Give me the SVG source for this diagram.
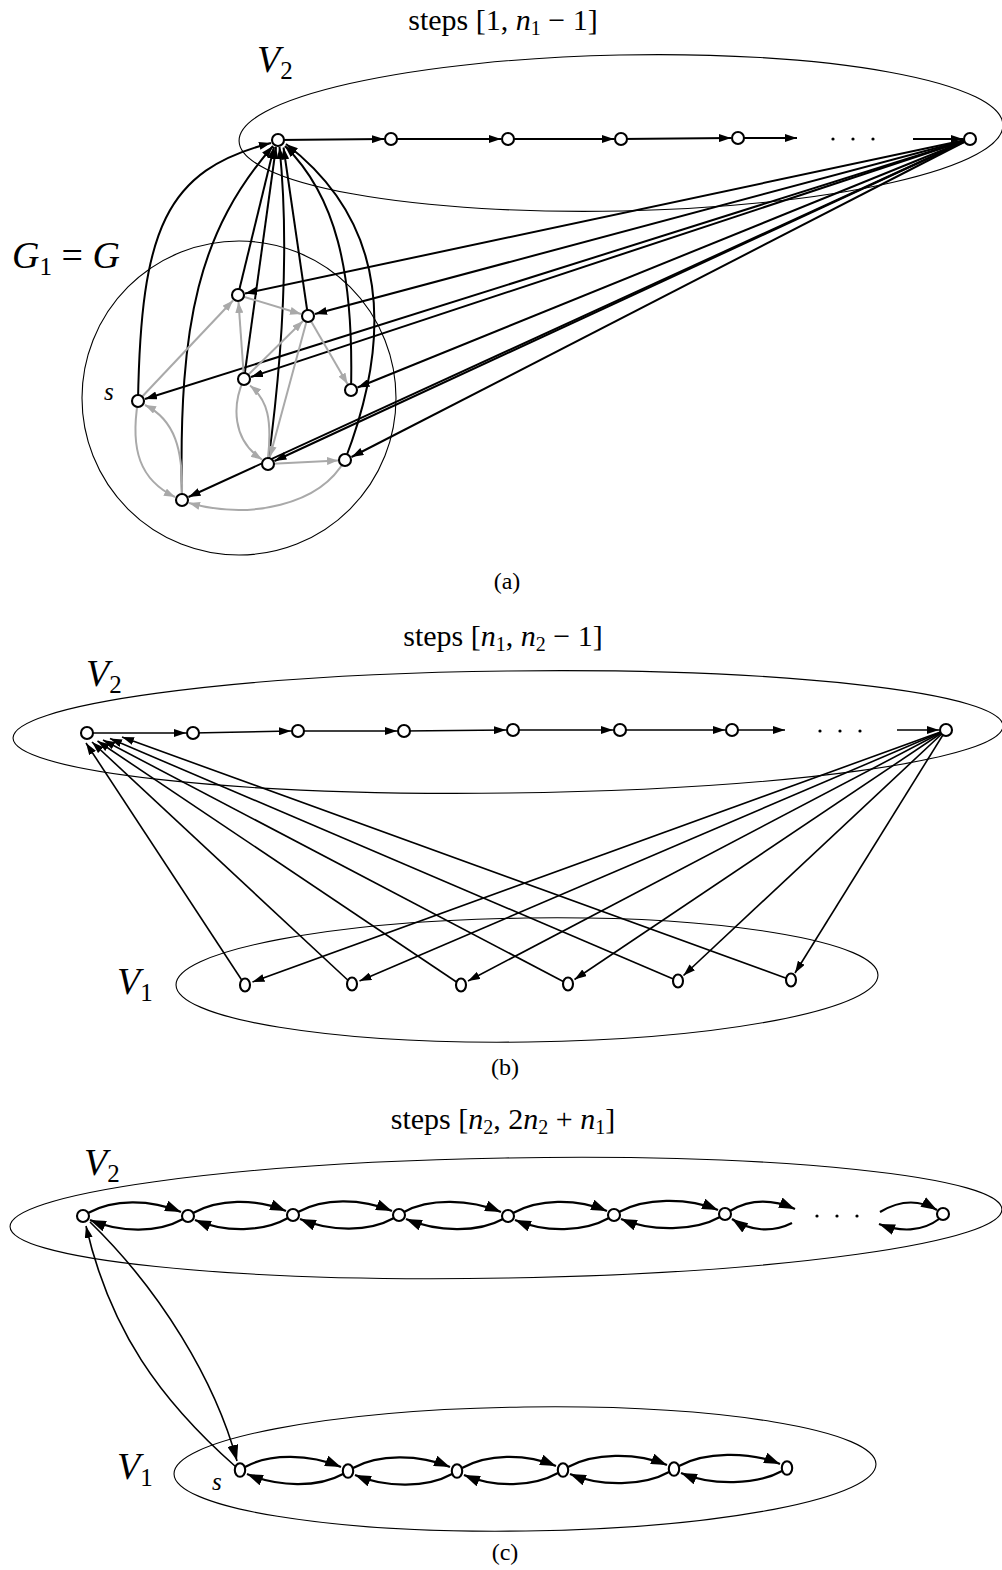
<svg xmlns="http://www.w3.org/2000/svg" width="1002" height="1570" viewBox="0 0 1002 1570">
<style>
text{font-family:"Liberation Serif","DejaVu Serif",serif;fill:#000}
.title{font-size:30px}
.lbl{font-size:38px}
.cap{font-size:24px}
.it{font-style:italic}
.sub{font-size:25px;font-style:normal}
.tsub{font-size:20px;font-style:normal}
.set{fill:none;stroke:#000;stroke-width:1.1}
.node circle,.node ellipse{fill:#fff;stroke:#000;stroke-width:2.1}
.ek{fill:none;stroke:#000;stroke-width:2;marker-end:url(#mk)}
.eg{fill:none;stroke:#a9a9a9;stroke-width:2;marker-end:url(#mg)}
.eb{fill:none;stroke:#000;stroke-width:1.6;marker-end:url(#mb)}
.ec{fill:none;stroke:#000;stroke-width:2.2;marker-end:url(#mc)}
.ed{fill:none;stroke:#000;stroke-width:1.6;marker-end:url(#mc)}
.dot{fill:#000}
</style>
<defs>
<marker id="mk" markerUnits="userSpaceOnUse" markerWidth="12" markerHeight="8" refX="12" refY="4" orient="auto"><path d="M0,0 L12,4 L0,8 Z" fill="#000"/></marker>
<marker id="mg" markerUnits="userSpaceOnUse" markerWidth="11" markerHeight="8" refX="11" refY="4" orient="auto"><path d="M0,0 L11,4 L0,8 Z" fill="#a9a9a9"/></marker>
<marker id="mb" markerUnits="userSpaceOnUse" markerWidth="12" markerHeight="8" refX="12" refY="4" orient="auto"><path d="M0,0 L12,4 L0,8 Z" fill="#000"/></marker>
<marker id="mc" markerUnits="userSpaceOnUse" markerWidth="16" markerHeight="11" refX="16" refY="5.5" orient="auto"><path d="M0,0 L16,5.5 L0,11 Z" fill="#000"/></marker>
</defs>

<!-- ========== Panel (a) ========== -->
<g id="sets-a">
<ellipse class="set" cx="621" cy="133" rx="382" ry="78" transform="rotate(-1.2 621 133)"/>
<circle class="set" cx="239" cy="398" r="157"/>
</g>
<g id="labels-a">
<text class="title" x="503" y="30" text-anchor="middle">steps [1, <tspan class="it">n</tspan><tspan class="tsub" dy="5">1</tspan><tspan dy="-5"> − 1]</tspan></text>
<text class="lbl" x="257" y="72"><tspan class="it">V</tspan><tspan class="sub" dy="7">2</tspan></text>
<text class="lbl" x="12" y="268"><tspan class="it">G</tspan><tspan class="sub" dy="7">1</tspan><tspan dy="-7"> = </tspan><tspan class="it">G</tspan></text>
<text class="it" x="104" y="400" font-size="25">s</text>
<text class="cap" x="507" y="589" text-anchor="middle">(a)</text>
</g>

<g id="connectors-a">
<!-- V2 chain -->
<path class="ek" d="M278,140 L384,139"/>
<path class="ek" d="M391,139 L501,139"/>
<path class="ek" d="M508,139 L614,139"/>
<path class="ek" d="M621,139 L731,138"/>
<path class="ek" d="M738,138 L797,138"/>
<path class="ek" d="M913,139 L963,139"/>
<!-- last V2 node to G1 nodes -->
<path class="ek" d="M970,139 L245,293.5"/>
<path class="ek" d="M970,139 L315,314"/>
<path class="ek" d="M970,139 L251,377"/>
<path class="ek" d="M970,139 L357.5,387.5"/>
<path class="ek" d="M970,139 L145,399"/>
<path class="ek" d="M970,139 L274.5,461"/>
<path class="ek" d="M970,139 L351.5,457"/>
<path class="ek" d="M970,139 L188.5,497"/>
<!-- G1 nodes to first V2 node -->
<path class="ek" d="M138,401 C141,230 165,170 271,143"/>
<path class="ek" d="M182,500 C178,320 200,230 273,146"/>
<path class="ek" d="M238,295 L274,147"/>
<path class="ek" d="M244,379 L276,147"/>
<path class="ek" d="M268,464 C282,360 290,250 279.5,147"/>
<path class="ek" d="M308,316 L283.5,147.5"/>
<path class="ek" d="M351,390 C354,270 335,195 285,146"/>
<path class="ek" d="M345,460 C395,330 385,220 286,144"/>
<!-- grey edges inside G1 -->
<path class="eg" d="M138,401 L233,300.5"/>
<path class="eg" d="M238,295 L301,314"/>
<path class="eg" d="M244,379 L238.5,302"/>
<path class="eg" d="M244,379 L303,321"/>
<path class="eg" d="M308,316 L347.5,384"/>
<path class="eg" d="M308,316 L269.8,457"/>
<path class="eg" d="M268,458 C272,420 268,400 250,385.5"/>
<path class="eg" d="M244,379 C232,405 232,440 262,459.5"/>
<path class="eg" d="M268,464 L338,460.5"/>
<path class="eg" d="M345,460 C320,505 250,520 189,503"/>
<path class="eg" d="M138,401 C130,450 140,480 175,497"/>
<path class="eg" d="M182,494 C183,450 175,420 145,405"/>
</g>

<g id="dots-a">
<circle class="dot" cx="833" cy="139" r="1.6"/><circle class="dot" cx="853" cy="139" r="1.6"/><circle class="dot" cx="873" cy="139" r="1.6"/>
</g>

<g id="a-v2-0" class="node"><circle cx="278" cy="140" r="6"/></g>
<g id="a-v2-1" class="node"><circle cx="391" cy="139" r="6"/></g>
<g id="a-v2-2" class="node"><circle cx="508" cy="139" r="6"/></g>
<g id="a-v2-3" class="node"><circle cx="621" cy="139" r="6"/></g>
<g id="a-v2-4" class="node"><circle cx="738" cy="138" r="6"/></g>
<g id="a-v2-last" class="node"><circle cx="970" cy="139" r="6"/></g>
<g id="a-g1-A" class="node"><circle cx="238" cy="295" r="6"/></g>
<g id="a-g1-B" class="node"><circle cx="308" cy="316" r="6"/></g>
<g id="a-g1-C" class="node"><circle cx="244" cy="379" r="6"/></g>
<g id="a-g1-D" class="node"><circle cx="351" cy="390" r="6"/></g>
<g id="a-g1-s" class="node"><circle cx="138" cy="401" r="6"/></g>
<g id="a-g1-E" class="node"><circle cx="268" cy="464" r="6"/></g>
<g id="a-g1-F" class="node"><circle cx="345" cy="460" r="6"/></g>
<g id="a-g1-H" class="node"><circle cx="182" cy="500" r="6"/></g>

<!-- ========== Panel (b) ========== -->
<g id="sets-b">
<ellipse class="set" cx="508" cy="732" rx="495" ry="61" transform="rotate(-0.7 508 732)"/>
<ellipse class="set" cx="527" cy="980" rx="351" ry="62" transform="rotate(-0.8 527 980)"/>
</g>
<g id="labels-b">
<text class="title" x="503" y="646" text-anchor="middle">steps [<tspan class="it">n</tspan><tspan class="tsub" dy="5">1</tspan><tspan dy="-5">, </tspan><tspan class="it">n</tspan><tspan class="tsub" dy="5">2</tspan><tspan dy="-5"> − 1]</tspan></text>
<text class="lbl" x="86" y="686"><tspan class="it">V</tspan><tspan class="sub" dy="7">2</tspan></text>
<text class="lbl" x="117" y="994"><tspan class="it">V</tspan><tspan class="sub" dy="7">1</tspan></text>
<text class="cap" x="505" y="1075" text-anchor="middle">(b)</text>
</g>

<g id="connectors-b">
<path class="eb" d="M87,733 L186,733"/>
<path class="eb" d="M193,733 L291,731"/>
<path class="eb" d="M298,731 L397,731"/>
<path class="eb" d="M404,731 L506,730"/>
<path class="eb" d="M513,730 L613,730"/>
<path class="eb" d="M620,730 L725,730"/>
<path class="eb" d="M732,730 L785,730"/>
<path class="eb" d="M897,730 L939,730"/>
<!-- V1 -> first V2 -->
<path class="eb" d="M245,985 L86,743"/>
<path class="eb" d="M352,984 L92,742"/>
<path class="eb" d="M461,985 L97.5,741"/>
<path class="eb" d="M568,984 L103,740"/>
<path class="eb" d="M678,981 L110,738.5"/>
<path class="eb" d="M791,980 L122,737"/>
<!-- last V2 -> V1 -->
<path class="eb" d="M946,730 L252.5,982"/>
<path class="eb" d="M946,730 L359.5,981"/>
<path class="eb" d="M946,730 L468,981"/>
<path class="eb" d="M946,730 L574.5,979.5"/>
<path class="eb" d="M946,730 L683.5,975.5"/>
<path class="eb" d="M946,730 L795,973"/>
</g>

<g id="dots-b">
<circle class="dot" cx="820" cy="731" r="1.6"/><circle class="dot" cx="840" cy="731" r="1.6"/><circle class="dot" cx="860" cy="731" r="1.6"/>
</g>

<g id="b-v2-0" class="node"><circle cx="87" cy="733" r="6"/></g>
<g id="b-v2-1" class="node"><circle cx="193" cy="733" r="6"/></g>
<g id="b-v2-2" class="node"><circle cx="298" cy="731" r="6"/></g>
<g id="b-v2-3" class="node"><circle cx="404" cy="731" r="6"/></g>
<g id="b-v2-4" class="node"><circle cx="513" cy="730" r="6"/></g>
<g id="b-v2-5" class="node"><circle cx="620" cy="730" r="6"/></g>
<g id="b-v2-6" class="node"><circle cx="732" cy="730" r="6"/></g>
<g id="b-v2-last" class="node"><circle cx="946" cy="730" r="6"/></g>
<g id="b-v1-0" class="node"><ellipse cx="245" cy="985" rx="5" ry="6.5"/></g>
<g id="b-v1-1" class="node"><ellipse cx="352" cy="984" rx="5" ry="6.5"/></g>
<g id="b-v1-2" class="node"><ellipse cx="461" cy="985" rx="5" ry="6.5"/></g>
<g id="b-v1-3" class="node"><ellipse cx="568" cy="984" rx="5" ry="6.5"/></g>
<g id="b-v1-4" class="node"><ellipse cx="678" cy="981" rx="5" ry="6.5"/></g>
<g id="b-v1-5" class="node"><ellipse cx="791" cy="980" rx="5" ry="6.5"/></g>

<!-- ========== Panel (c) ========== -->
<g id="sets-c">
<ellipse class="set" cx="506" cy="1218" rx="496" ry="60" transform="rotate(-1 506 1218)"/>
<ellipse class="set" cx="525" cy="1469" rx="351" ry="62" transform="rotate(-0.8 525 1469)"/>
</g>
<g id="labels-c">
<text class="title" x="503" y="1129" text-anchor="middle">steps [<tspan class="it">n</tspan><tspan class="tsub" dy="5">2</tspan><tspan dy="-5">, 2</tspan><tspan class="it">n</tspan><tspan class="tsub" dy="5">2</tspan><tspan dy="-5"> + </tspan><tspan class="it">n</tspan><tspan class="tsub" dy="5">1</tspan><tspan dy="-5">]</tspan></text>
<text class="lbl" x="84" y="1175"><tspan class="it">V</tspan><tspan class="sub" dy="7">2</tspan></text>
<text class="lbl" x="117" y="1479"><tspan class="it">V</tspan><tspan class="sub" dy="7">1</tspan></text>
<text class="it" x="212" y="1490" font-size="25">s</text>
<text class="cap" x="505" y="1560" text-anchor="middle">(c)</text>
</g>

<g id="connectors-c">
<!-- V2 chain -->
<path class="ec" d="M88,1213 C113,1199 150,1199 181,1212"/>
<path class="ec" d="M183,1219 C158,1233 121,1233 90,1220"/>
<path class="ec" d="M193,1213 C218,1199 255,1198 286,1211"/>
<path class="ec" d="M288,1218 C263,1232 226,1233 195,1220"/>
<path class="ec" d="M298,1212 C323,1198 361,1198 392,1211"/>
<path class="ec" d="M394,1218 C369,1232 331,1232 300,1219"/>
<path class="ec" d="M404,1212 C429,1198 470,1199 501,1212"/>
<path class="ec" d="M503,1219 C478,1233 437,1232 406,1219"/>
<path class="ec" d="M513,1213 C538,1199 576,1198 607,1211"/>
<path class="ec" d="M609,1218 C584,1232 546,1233 515,1220"/>
<path class="ec" d="M619,1212 C644,1198 687,1197 718,1210"/>
<path class="ec" d="M720,1217 C695,1231 652,1232 621,1219"/>
<path class="ec" d="M730,1211 C750,1199 772,1199 795,1209"/>
<path class="ec" d="M792,1223 C772,1233 750,1231 732,1219"/>
<path class="ec" d="M880,1212 C900,1200 920,1200 937,1210"/>
<path class="ec" d="M939,1219 C922,1232 900,1232 879,1224"/>
<!-- V1 chain -->
<path class="ec" d="M245,1467 C270,1453 310,1454 341,1467"/>
<path class="ec" d="M343,1474 C318,1488 278,1487 247,1474"/>
<path class="ec" d="M353,1468 C378,1454 419,1454 450,1467"/>
<path class="ec" d="M452,1474 C427,1488 386,1488 355,1475"/>
<path class="ec" d="M462,1468 C487,1454 525,1453 556,1466"/>
<path class="ec" d="M558,1473 C533,1487 495,1488 464,1475"/>
<path class="ec" d="M568,1467 C593,1453 636,1452 667,1465"/>
<path class="ec" d="M669,1472 C644,1486 601,1487 570,1474"/>
<path class="ec" d="M679,1466 C704,1452 749,1451 780,1464"/>
<path class="ec" d="M782,1471 C757,1485 712,1486 681,1473"/>
<!-- between V1 s and V2 first -->
<path class="eb" d="M236,1467 C160,1400 110,1330 86,1226"/>
<path class="ed" d="M90,1222 C160,1290 215,1380 237,1461"/>
</g>

<g id="dots-c">
<circle class="dot" cx="817" cy="1216" r="1.6"/><circle class="dot" cx="837" cy="1216" r="1.6"/><circle class="dot" cx="857" cy="1216" r="1.6"/>
</g>

<g id="c-v2-0" class="node"><circle cx="83" cy="1216" r="6"/></g>
<g id="c-v2-1" class="node"><circle cx="188" cy="1216" r="6"/></g>
<g id="c-v2-2" class="node"><circle cx="293" cy="1215" r="6"/></g>
<g id="c-v2-3" class="node"><circle cx="399" cy="1215" r="6"/></g>
<g id="c-v2-4" class="node"><circle cx="508" cy="1216" r="6"/></g>
<g id="c-v2-5" class="node"><circle cx="614" cy="1215" r="6"/></g>
<g id="c-v2-6" class="node"><circle cx="725" cy="1214" r="6"/></g>
<g id="c-v2-last" class="node"><circle cx="943" cy="1214" r="6"/></g>
<g id="c-v1-s" class="node"><ellipse cx="240" cy="1470" rx="5.2" ry="6.8"/></g>
<g id="c-v1-1" class="node"><ellipse cx="348" cy="1471" rx="5.2" ry="6.8"/></g>
<g id="c-v1-2" class="node"><ellipse cx="457" cy="1471" rx="5.2" ry="6.8"/></g>
<g id="c-v1-3" class="node"><ellipse cx="563" cy="1470" rx="5.2" ry="6.8"/></g>
<g id="c-v1-4" class="node"><ellipse cx="674" cy="1469" rx="5.2" ry="6.8"/></g>
<g id="c-v1-5" class="node"><ellipse cx="787" cy="1468" rx="5.2" ry="6.8"/></g>
</svg>
